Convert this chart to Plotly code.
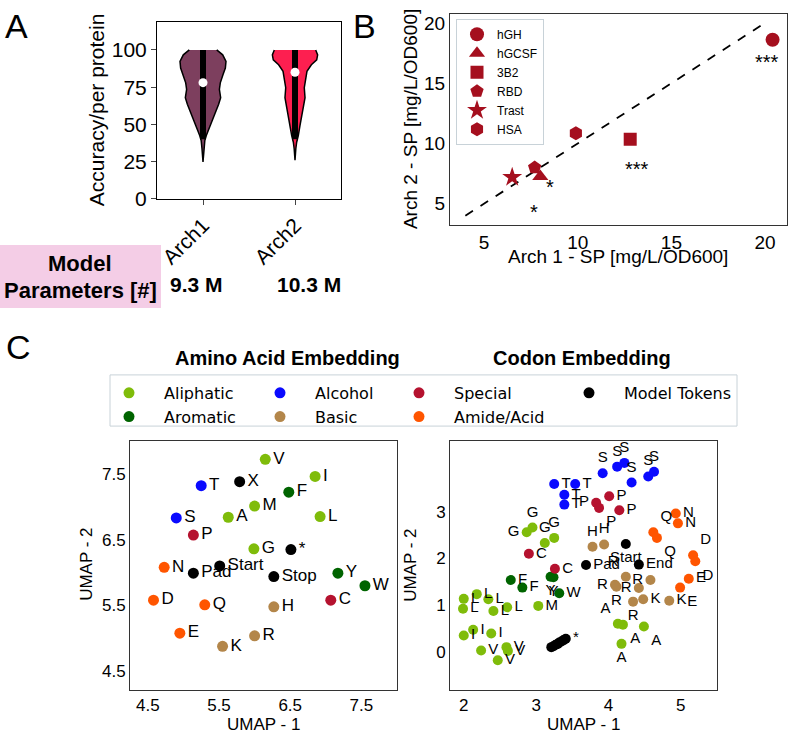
import plotly.graph_objects as go

# ---------------- Panel A data ----------------
arch_names = ["Arch1", "Arch2"]
arch_colors = ["#7d3f5e", "#fd1f50"]
a1_levels = [100, 96.7, 92.3, 87.8, 83.4, 77.9, 73.5, 67.9, 63.5, 59.1, 53.5, 48, 42.5, 39.2, 33.6, 24.8]
a1_halfw = [0.149, 0.214, 0.25, 0.243, 0.217, 0.188, 0.178, 0.192, 0.170, 0.141, 0.109, 0.072, 0.036, 0.02, 0.011, 0.0]
a2_levels = [100, 96.7, 93.4, 90, 85.6, 80, 74.6, 67.9, 62.4, 55.8, 49.1, 42.5, 38, 33.6, 25.9]
a2_halfw = [0.225, 0.246, 0.236, 0.178, 0.130, 0.112, 0.101, 0.109, 0.091, 0.072, 0.054, 0.036, 0.018, 0.009, 0.0]
bar_low = [40, 40]
bar_high = [100, 100]
medians = [78, 85]
param_labels = ["9.3 M", "10.3 M"]

# ---------------- Panel B data ----------------
proteins = ["hGH", "hGCSF", "3B2", "RBD", "Trast", "HSA"]
prot_symbols = ["circle", "triangle-up", "square", "pentagon", "star", "hexagon"]
prot_sizes = [14, 14, 13, 14, 15, 14]
arch1_sp = [20.4, 8.0, 12.8, 7.7, 6.5, 9.9]
arch2_sp = [18.6, 7.25, 10.35, 8.0, 7.2, 10.85]
diag = [4, 20]
sig_text = ["***", "***", "*", "*"]
sig_x = [20.1, 13.15, 8.52, 7.69]
sig_y = [17.25, 8.34, 6.86, 4.8]

# ---------------- Panel C data ----------------
categories = ["Aliphatic", "Aromatic", "Alcohol", "Basic", "Special", "Amide/Acid", "Model Tokens"]
cat_colors = ["#7fbc0a", "#006400", "#0a0aff", "#b3864a", "#b5122f", "#ff5500", "#000000"]

aa_tokens = ["V", "I", "X", "T", "F", "M", "S", "A", "L", "P", "G", "*", "N", "Start", "Pad",
             "Stop", "Y", "W", "D", "C", "Q", "H", "E", "R", "K"]
aa_x = [6.15, 6.85, 5.79, 5.25, 6.48, 6.00, 4.90, 5.63, 6.92, 5.14, 5.99, 6.51, 4.73, 5.51, 5.14,
        6.27, 7.17, 7.55, 4.58, 7.07, 5.30, 6.27, 4.95, 6.00, 5.55]
aa_y = [7.72, 7.46, 7.38, 7.32, 7.22, 7.01, 6.83, 6.84, 6.85, 6.57, 6.36, 6.35, 6.08, 6.10, 5.99,
        5.94, 5.99, 5.80, 5.58, 5.58, 5.51, 5.48, 5.08, 5.04, 4.88]
aa_cat = ["Aliphatic", "Aliphatic", "Model Tokens", "Alcohol", "Aromatic", "Aliphatic", "Alcohol",
          "Aliphatic", "Aliphatic", "Special", "Aliphatic", "Model Tokens", "Amide/Acid", "Model Tokens",
          "Model Tokens", "Model Tokens", "Aromatic", "Aromatic", "Amide/Acid", "Special", "Amide/Acid",
          "Basic", "Amide/Acid", "Basic", "Basic"]

codon_tokens = ["L", "L", "L", "L", "L", "L", "I", "I", "I", "V", "V", "V", "V", "G", "G", "G", "G", "M",
                "A", "A", "A", "A",
                "F", "F", "Y", "Y", "W",
                "T", "T", "T", "T", "S", "S", "S", "S", "S", "S",
                "P", "P", "P", "P", "C", "C",
                "H", "H", "R", "R", "R", "R", "R", "R", "K", "K",
                "N", "N", "Q", "Q", "D", "D", "E", "E",
                "Start", "End", "Pad", "", "", "", "", "", "", "", "*"]
codon_x = [2.00, 1.99, 2.18, 2.34, 2.41, 2.60, 2.00, 2.13, 2.38, 2.24, 2.47, 2.59, 2.61, 2.87, 2.95, 3.12, 3.25, 3.03,
           4.13, 4.20, 4.18, 4.49,
           2.65, 2.81, 3.20, 3.24, 3.32,
           3.25, 3.54, 3.39, 3.39, 3.92, 4.12, 4.22, 4.32, 4.55, 4.63,
           3.83, 3.87, 4.01, 4.15, 2.90, 3.26,
           3.78, 3.94, 4.24, 4.09, 4.11, 4.42, 4.58, 4.34, 4.48, 4.84,
           4.93, 4.96, 4.62, 4.67, 5.17, 5.20, 5.11, 4.99,
           4.24, 4.42, 3.69, 3.21, 3.24, 3.27, 3.30, 3.32, 3.35, 3.38, 3.41]
codon_y = [1.14, 0.93, 1.24, 1.13, 0.88, 0.96, 0.36, 0.48, 0.40, 0.04, -0.17, 0.11, 0.03, 2.56, 2.66, 2.33, 2.44, 0.99,
           0.61, 0.59, 0.18, 0.55,
           1.54, 1.38, 1.61, 1.60, 1.26,
           3.59, 3.59, 3.36, 3.15, 3.82, 3.96, 4.04, 3.62, 3.75, 3.85,
           3.19, 3.08, 3.33, 3.03, 2.10, 1.78,
           2.25, 2.30, 1.61, 1.44, 1.40, 1.37, 1.54, 1.08, 1.13, 1.10,
           2.96, 2.75, 2.56, 2.44, 2.07, 1.94, 1.57, 1.38,
           2.31, 1.87, 1.86, 0.11, 0.13, 0.16, 0.18, 0.21, 0.23, 0.26, 0.29]
codon_cat = (["Aliphatic"] * 22 + ["Aromatic"] * 5 + ["Alcohol"] * 10 + ["Special"] * 6 +
             ["Basic"] * 10 + ["Amide/Acid"] * 8 + ["Model Tokens"] * 11)
codon_textpos = (["middle right"] * 13 + ["middle left", "top center", "top center", "top center", "middle right"] +
                 ["top left", "bottom right", "bottom center", "bottom right"] +
                 ["middle right", "middle right", "bottom center", "bottom center", "middle right"] +
                 ["middle right"] * 4 + ["top center"] * 6 +
                 ["middle left", "bottom right", "middle right", "middle right", "middle right", "middle right"] +
                 ["top center", "top center", "top left", "middle left", "bottom center", "middle left", "middle left",
                  "bottom center", "middle right", "middle right"] +
                 ["middle right", "middle right", "top right", "bottom right", "top right", "bottom right",
                  "middle right", "bottom right"] +
                 ["bottom center", "middle right", "middle right"] + ["middle right"] * 8)

# ---------------- layout helpers ----------------
W, H = 793, 750
FONT = "Liberation Sans, Arial, sans-serif"


def px(x):
    return x / W


def py(y):
    return 1 - y / H


fig = go.Figure()

# ---- Panel A: violins ----
profiles = [(a1_levels, a1_halfw), (a2_levels, a2_halfw)]
for i, (lv, hw) in enumerate(profiles):
    xs = [i + w for w in hw] + [i - w for w in hw[::-1]]
    ys = list(lv) + list(lv[::-1])
    fig.add_trace(go.Scatter(x=xs, y=ys, mode="lines", fill="toself", fillcolor=arch_colors[i],
                             line=dict(color="black", width=1.5), showlegend=False,
                             xaxis="x", yaxis="y", hoverinfo="skip"))
    fig.add_trace(go.Scatter(x=[i, i], y=[bar_low[i], bar_high[i]], mode="lines",
                             line=dict(color="black", width=6), showlegend=False,
                             xaxis="x", yaxis="y", hoverinfo="skip"))
fig.add_trace(go.Scatter(x=[0, 1], y=medians, mode="markers",
                         marker=dict(color="white", size=9), showlegend=False, xaxis="x", yaxis="y"))

# ---- Panel B ----
fig.add_trace(go.Scatter(x=diag, y=diag, mode="lines", line=dict(color="black", width=1.8, dash="dash"),
                         showlegend=False, xaxis="x2", yaxis="y2", hoverinfo="skip"))
for i, p in enumerate(proteins):
    fig.add_trace(go.Scatter(x=[arch1_sp[i]], y=[arch2_sp[i]], mode="markers", name=p,
                             marker=dict(symbol=prot_symbols[i], size=prot_sizes[i], color="#a50f1e"),
                             xaxis="x2", yaxis="y2", legend="legend"))

# ---- Panel C ----
legend_of = {"Aliphatic": "legend2", "Aromatic": "legend2", "Alcohol": "legend3", "Basic": "legend3",
             "Special": "legend4", "Amide/Acid": "legend4", "Model Tokens": "legend5"}
for ci, cat in enumerate(categories):
    idx = [k for k, c in enumerate(aa_cat) if c == cat]
    fig.add_trace(go.Scatter(x=[aa_x[k] for k in idx], y=[aa_y[k] for k in idx],
                             text=[aa_tokens[k] for k in idx], mode="markers+text",
                             textposition="middle right",
                             textfont=dict(family=FONT, size=17, color="black"),
                             marker=dict(color=cat_colors[ci], size=11), name=cat,
                             legend=legend_of[cat], xaxis="x3", yaxis="y3", cliponaxis=False))
    idx = [k for k, c in enumerate(codon_cat) if c == cat]
    fig.add_trace(go.Scatter(x=[codon_x[k] for k in idx], y=[codon_y[k] for k in idx],
                             text=[codon_tokens[k] for k in idx], mode="markers+text",
                             textposition=[codon_textpos[k] for k in idx],
                             textfont=dict(family=FONT, size=15, color="black"),
                             marker=dict(color=cat_colors[ci], size=10), name=cat, showlegend=False,
                             xaxis="x4", yaxis="y4", cliponaxis=False))

axis_common = dict(showline=True, mirror=True, showgrid=False, zeroline=False)
tf_a = dict(family=FONT, size=21, color="black")
tf_b = dict(family=FONT, size=19, color="black")
tf_c = dict(family=FONT, size=17, color="black")

annotations = []


def txt(x, y, s, size, bold=False, angle=0, family=FONT, xa="center"):
    annotations.append(dict(x=px(x), y=py(y), xref="paper", yref="paper", text=("<b>%s</b>" % s) if bold else s,
                            showarrow=False, textangle=angle, xanchor=xa, yanchor="middle",
                            font=dict(family=family, size=size, color="black")))


# panel letters
txt(16, 25, "A", 34)
txt(364, 25, "B", 34)
txt(18, 352, "C", 34)
# axis titles
txt(96, 111, "Accuracy/per protein", 21, angle=-90)
txt(410, 120, "Arch 2 - SP [mg/L/OD600]", 19, angle=-90)
txt(618, 260, "Arch 1 - SP [mg/L/OD600]", 19)
txt(263, 735, "UMAP - 1", 17)
txt(87, 573, "UMAP - 2", 17, angle=-90)
txt(583, 735, "UMAP - 1", 17)
txt(411, 573, "UMAP - 2", 17, angle=-90)
# table
txt(80, 267, "Model", 22, bold=True)
txt(80, 294, "Parameters [#]", 22, bold=True)
txt(196, 288, param_labels[0], 21, bold=True)
txt(309, 288, param_labels[1], 21, bold=True)
# C titles
txt(287, 363, "Amino Acid Embedding", 20, bold=True)
txt(582, 363, "Codon Embedding", 20, bold=True)

for s, x, y in zip(sig_text, sig_x, sig_y):
    annotations.append(dict(x=x, y=y, xref="x2", yref="y2", text=s, showarrow=False, yshift=-6,
                            font=dict(family=FONT, size=20, color="black")))

legend_c = dict(orientation="v", xanchor="left", yanchor="top", bgcolor="rgba(0,0,0,0)", borderwidth=0,
                font=dict(family="DejaVu Sans", size=16, color="black"), tracegroupgap=0, itemwidth=60)

fig.update_layout(
    width=W, height=H, margin=dict(l=0, r=0, t=0, b=0), plot_bgcolor="white", paper_bgcolor="white",
    xaxis=dict(domain=[px(157), px(341)], range=[-0.5, 1.5], tickvals=[0, 1], ticktext=arch_names,
               tickangle=-45, ticks="outside", ticklen=5, linecolor="black", anchor="y", tickfont=tf_a,
               **axis_common),
    yaxis=dict(domain=[py(201), py(21)], range=[0, 119], tickvals=[0, 25, 50, 75, 100], ticks="outside",
               ticklen=5, linecolor="black", anchor="x", tickfont=tf_a, **axis_common),
    xaxis2=dict(domain=[px(450), px(787)], range=[3.18, 21.17], tickvals=[5, 10, 15, 20], linecolor="#333",
                anchor="y2", tickfont=tf_b, **axis_common),
    yaxis2=dict(domain=[py(228), py(13)], range=[3.2, 20.76], tickvals=[5, 10, 15, 20], linecolor="#333",
                anchor="x2", tickfont=tf_b, **axis_common),
    xaxis3=dict(domain=[px(130), px(397)], range=[4.25, 8.0], tickvals=[4.5, 5.5, 6.5, 7.5], linecolor="#333",
                anchor="y3", tickfont=tf_c, **axis_common),
    yaxis3=dict(domain=[py(700), py(447)], range=[4.22, 8.0], tickvals=[4.5, 5.5, 6.5, 7.5], linecolor="#333",
                anchor="x3", tickfont=tf_c, **axis_common),
    xaxis4=dict(domain=[px(450), px(717)], range=[1.81, 5.5], tickvals=[2, 3, 4, 5], linecolor="#333",
                anchor="y4", tickfont=tf_c, **axis_common),
    yaxis4=dict(domain=[py(700), py(447)], range=[-0.8, 4.51], tickvals=[0, 1, 2, 3], linecolor="#333",
                anchor="x4", tickfont=tf_c, **axis_common),
    legend=dict(x=px(456), y=py(18), xanchor="left", yanchor="top", bgcolor="white", bordercolor="#c8d2d8",
                borderwidth=1, font=dict(family=FONT, size=12, color="black")),
    legend2=dict(x=px(94), y=py(381), **legend_c),
    legend3=dict(x=px(245), y=py(381), **legend_c),
    legend4=dict(x=px(384), y=py(381), **legend_c),
    legend5=dict(x=px(554), y=py(381), **legend_c),
    shapes=[dict(type="rect", xref="paper", yref="paper", x0=0, x1=px(161), y0=py(312), y1=py(248),
                 fillcolor="#f4cde6", line=dict(width=0), layer="below"),
            dict(type="rect", xref="paper", yref="paper", x0=px(110), x1=px(737), y0=py(432), y1=py(380),
                 fillcolor="rgba(0,0,0,0)", line=dict(color="#c8d2d8", width=1))],
    annotations=annotations,
)

fig.write_html("out.html")
